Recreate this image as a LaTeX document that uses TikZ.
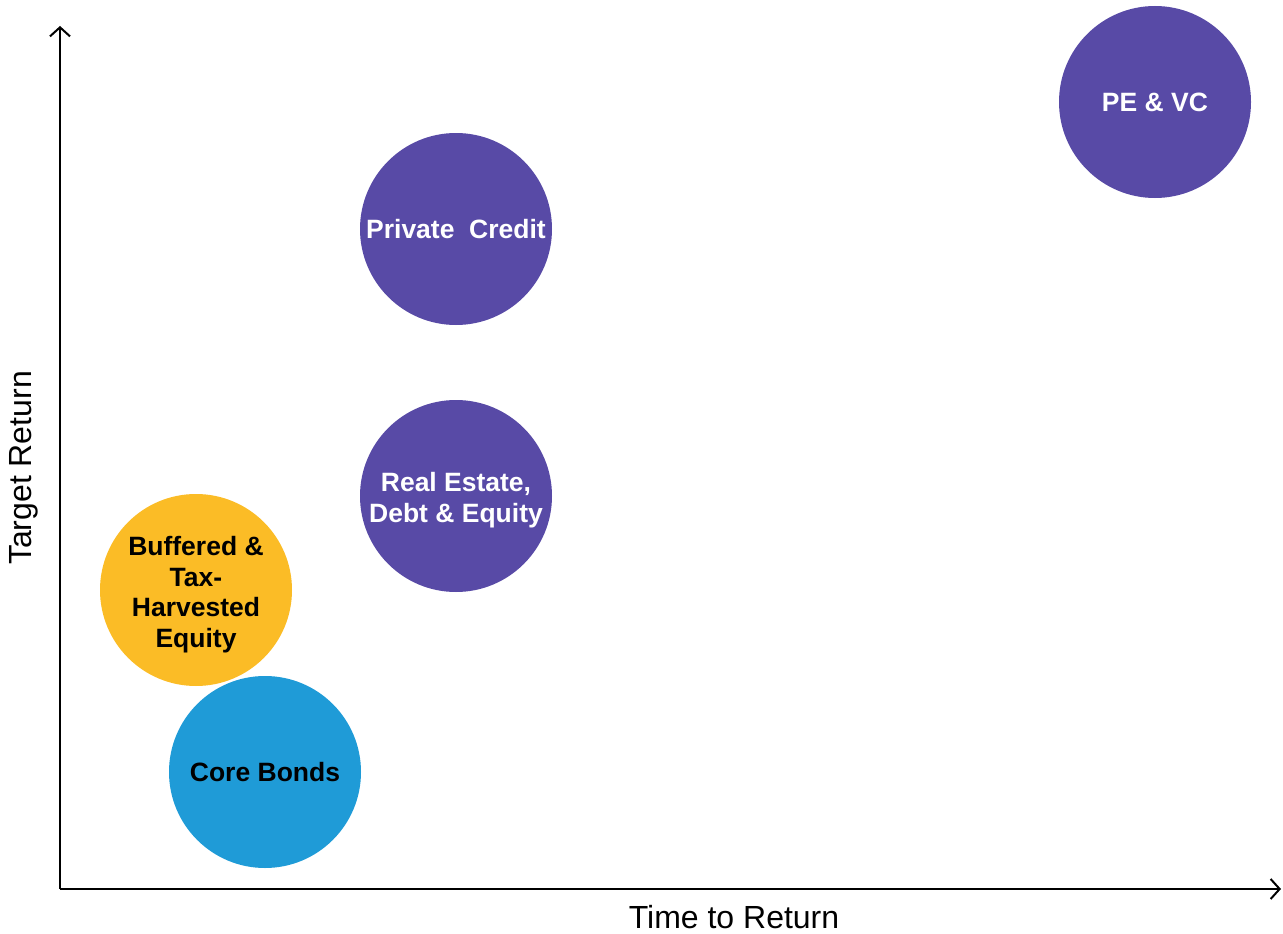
\documentclass[tikz,border=0pt]{standalone}
\usepackage{fontspec}
\setmainfont{Liberation Sans}
\usetikzlibrary{arrows.meta}
\definecolor{purp}{HTML}{584AA6}
\definecolor{gold}{HTML}{FBBC26}
\definecolor{sky}{HTML}{1F9BD7}
\begin{document}
\begin{tikzpicture}[x=1pt,y=-1pt,
  bubble/.style={circle,minimum size=192pt,inner sep=0pt,align=center,
    font=\fontsize{26.5}{30.5}\selectfont\bfseries},
  btext/.style={align=center,inner sep=0pt,
    font=\fontsize{26.5}{30.5}\selectfont\bfseries},
  axis/.style={line width=2pt,-{Straight Barb[length=9pt,width=20pt,line width=2pt]}},
  axlabel/.style={font=\fontsize{32}{36}\selectfont}]
\useasboundingbox (0,0) rectangle (1283,934);
\coordinate (O) at (60,889);
\coordinate (Ytop) at (60,26);
\coordinate (Xend) at (1281,889);
\draw[axis] (O) -- (Ytop);
\draw[axis] (O) -- (Xend);
\node[axlabel,rotate=90] (ylab) at (24,468) {Target Return};
\node[axlabel] (xlab) at (734,917) {Time to Return};
\node[bubble,fill=purp,text=white] (pe) at (1155,102) {PE \& VC};
\node[bubble,fill=purp,text=white] (pc) at (456,229) {Private\ \ Credit};
\node[bubble,fill=purp,text=white,
  label={[btext,text=white,yshift=-4pt]center:{Real Estate,\\Debt \& Equity}}] (re) at (456,496) {};
\node[bubble,fill=gold,text=black,
  label={[btext,text=black,yshift=-4.5pt]center:{Buffered \&\\Tax-\\Harvested\\Equity}}] (bt) at (196,590) {};
\node[bubble,fill=sky,text=black] (cb) at (265,772) {Core Bonds};
\end{tikzpicture}
\end{document}
